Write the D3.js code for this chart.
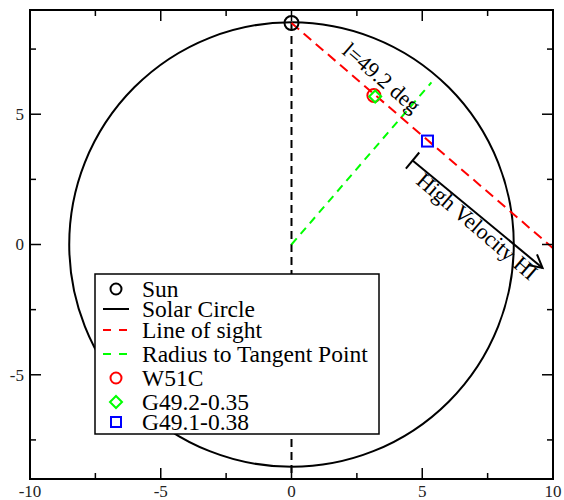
<!DOCTYPE html>
<html>
<head>
<meta charset="utf-8">
<script src="https://cdn.jsdelivr.net/npm/d3@7"></script>
<style>
  body { margin: 0; background: #fff; }
</style>
</head>
<body>
<div id="chart"></div>
<script>
// galactic geometry, kpc
const sun = [0, 8.5];
const solarRadius = 8.5;
const longitude = 49.2;
const lineOfSight = [[0, 8.5], [10, -0.14]];
const tangentRadius = [[0, 0], [5.35, 6.22]];
const sunDrop = [[0, 8.5], [0, -9]];
const w51c = [[3.15, 5.72]];
const g492 = [[3.2, 5.68]];
const g491 = [[5.2, 3.97]];
const hviArrow = [[4.63, 3.22], [9.6, -0.9]];

const xTicks = [-10, -5, 0, 5, 10];
const yTicks = [-5, 0, 5];
const legendItems = ["Sun", "Solar Circle", "Line of sight", "Radius to Tangent Point", "W51C", "G49.2-0.35", "G49.1-0.38"];

(function() {
  const width = 564, height = 500;
  const margin = { top: 10, right: 11, bottom: 21, left: 30 };
  const serif = "Liberation Serif";

  const svg = d3.select("#chart").append("svg")
    .attr("width", width).attr("height", height);

  const x = d3.scaleLinear().domain([-10, 10]).range([margin.left, width - margin.right]);
  const y = d3.scaleLinear().domain([-9, 9]).range([height - margin.bottom, margin.top]);
  const pxPerUnit = x(1) - x(0);

  const line = d3.line().x(d => x(d[0])).y(d => y(d[1]));

  // solar circle
  svg.append("circle")
    .attr("cx", x(0)).attr("cy", y(0))
    .attr("r", solarRadius * pxPerUnit)
    .attr("fill", "none").attr("stroke", "#000").attr("stroke-width", 2);

  svg.append("path").datum(sunDrop).attr("d", line)
    .attr("fill", "none").attr("stroke", "#000").attr("stroke-width", 2)
    .attr("stroke-dasharray", "8,5");

  svg.append("path").datum(tangentRadius).attr("d", line)
    .attr("fill", "none").attr("stroke", "#00ff00").attr("stroke-width", 2)
    .attr("stroke-dasharray", "8,6");

  svg.append("path").datum(lineOfSight).attr("d", line)
    .attr("fill", "none").attr("stroke", "#ff0000").attr("stroke-width", 2)
    .attr("stroke-dasharray", "10,6");

  // markers
  svg.append("circle").attr("cx", x(sun[0])).attr("cy", y(sun[1])).attr("r", 7)
    .attr("fill", "none").attr("stroke", "#000").attr("stroke-width", 2);
  svg.selectAll(".w51c").data(w51c).join("circle")
    .attr("cx", d => x(d[0])).attr("cy", d => y(d[1])).attr("r", 6.5)
    .attr("fill", "none").attr("stroke", "#ff0000").attr("stroke-width", 2);
  svg.selectAll(".g492").data(g492).join("path")
    .attr("transform", d => `translate(${x(d[0])},${y(d[1])})`)
    .attr("d", "M0,-6L6,0L0,6L-6,0Z")
    .attr("fill", "none").attr("stroke", "#00ff00").attr("stroke-width", 2);
  svg.selectAll(".g491").data(g491).join("rect")
    .attr("x", d => x(d[0]) - 5.5).attr("y", d => y(d[1]) - 5.5)
    .attr("width", 11).attr("height", 11)
    .attr("fill", "none").attr("stroke", "#0000ff").attr("stroke-width", 2);

  // angle of line of sight on screen
  const ang = Math.atan2(y(lineOfSight[1][1]) - y(lineOfSight[0][1]), x(lineOfSight[1][0]) - x(lineOfSight[0][0])) * 180 / Math.PI;

  svg.append("text")
    .attr("transform", `translate(${x(3.45)},${y(6.4)}) rotate(${ang})`)
    .attr("text-anchor", "middle").attr("dominant-baseline", "central")
    .attr("font-size", 22).text(`l=${longitude} deg`);

  // high velocity HI arrow
  const a0 = [x(hviArrow[0][0]), y(hviArrow[0][1])];
  const a1 = [x(hviArrow[1][0]), y(hviArrow[1][1])];
  const dx = a1[0] - a0[0], dy = a1[1] - a0[1];
  const len = Math.hypot(dx, dy);
  const ux = dx / len, uy = dy / len;
  const g = svg.append("g").attr("stroke", "#000").attr("stroke-width", 2).attr("fill", "none");
  g.append("line").attr("x1", a0[0]).attr("y1", a0[1]).attr("x2", a1[0]).attr("y2", a1[1]);
  g.append("line")
    .attr("x1", a0[0] - uy * 10.5).attr("y1", a0[1] + ux * 10.5)
    .attr("x2", a0[0] + uy * 10.5).attr("y2", a0[1] - ux * 10.5);
  const headL = 13, headW = 7;
  g.append("path").attr("d",
    `M${a1[0] - ux * headL - uy * headW},${a1[1] - uy * headL + ux * headW}` +
    `L${a1[0]},${a1[1]}` +
    `L${a1[0] - ux * headL + uy * headW},${a1[1] - uy * headL - ux * headW}`);

  svg.append("text")
    .attr("transform", `translate(${x(7.1)},${y(0.7)}) rotate(${ang})`)
    .attr("text-anchor", "middle").attr("dominant-baseline", "central")
    .attr("font-size", 22).text("High Velocity HI");

  // frame with inward ticks on all sides
  const tickMajor = 11, tickMinor = 6;
  const frame = svg.append("g").attr("stroke", "#000").attr("stroke-width", 1.5);
  const xMinor = d3.range(-7.5, 10, 5);
  const yMinor = d3.range(-7.5, 9, 5);
  const xTickLen = xTicks.map(v => [v, tickMajor]).concat(xMinor.map(v => [v, tickMinor]));
  const yTickLen = yTicks.map(v => [v, tickMajor]).concat(yMinor.map(v => [v, tickMinor]));
  xTickLen.forEach(([v, l]) => {
    frame.append("line").attr("x1", x(v)).attr("x2", x(v)).attr("y1", y(-9)).attr("y2", y(-9) - l);
    frame.append("line").attr("x1", x(v)).attr("x2", x(v)).attr("y1", y(9)).attr("y2", y(9) + l);
  });
  yTickLen.forEach(([v, l]) => {
    frame.append("line").attr("y1", y(v)).attr("y2", y(v)).attr("x1", x(-10)).attr("x2", x(-10) + l);
    frame.append("line").attr("y1", y(v)).attr("y2", y(v)).attr("x1", x(10)).attr("x2", x(10) - l);
  });
  svg.append("rect")
    .attr("x", x(-10)).attr("y", y(9))
    .attr("width", x(10) - x(-10)).attr("height", y(-9) - y(9))
    .attr("fill", "none").attr("stroke", "#000").attr("stroke-width", 2);

  svg.append("g").selectAll("text").data(xTicks).join("text")
    .attr("x", d => x(d)).attr("y", y(-9) + 18)
    .attr("text-anchor", "middle").attr("font-size", 17).attr("fill", "#222")
    .text(d => d);
  svg.append("g").selectAll("text").data(yTicks).join("text")
    .attr("x", x(-10) - 6).attr("y", d => y(d)).attr("dy", "0.35em")
    .attr("text-anchor", "end").attr("font-size", 17).attr("fill", "#222")
    .text(d => d);

  // legend
  const lg = svg.append("g");
  lg.append("rect").attr("x", 95).attr("y", 274).attr("width", 284).attr("height", 160)
    .attr("fill", "#fff").attr("stroke", "#000").attr("stroke-width", 1.5);
  const rowY = [289, 309, 330, 354, 378, 402, 422];
  const sx = 116;
  legendItems.forEach((name, i) => {
    const ry = rowY[i];
    lg.append("text").attr("x", 142).attr("y", ry).attr("dy", "0.35em")
      .attr("font-size", 23.5).text(name);
    if (i === 0) {
      lg.append("circle").attr("cx", sx).attr("cy", ry).attr("r", 5.5)
        .attr("fill", "none").attr("stroke", "#000").attr("stroke-width", 2);
    } else if (i === 1) {
      lg.append("line").attr("x1", 103).attr("x2", 129).attr("y1", ry).attr("y2", ry)
        .attr("stroke", "#000").attr("stroke-width", 2);
    } else if (i === 2 || i === 3) {
      lg.append("line").attr("x1", 103).attr("x2", 129).attr("y1", ry).attr("y2", ry)
        .attr("stroke", i === 2 ? "#ff0000" : "#00ff00").attr("stroke-width", 2)
        .attr("stroke-dasharray", "8,8");
    } else if (i === 4) {
      lg.append("circle").attr("cx", sx).attr("cy", ry).attr("r", 5.5)
        .attr("fill", "none").attr("stroke", "#ff0000").attr("stroke-width", 2);
    } else if (i === 5) {
      lg.append("path").attr("transform", `translate(${sx},${ry})`)
        .attr("d", "M0,-6L6,0L0,6L-6,0Z")
        .attr("fill", "none").attr("stroke", "#00ff00").attr("stroke-width", 2);
    } else {
      lg.append("rect").attr("x", sx - 5).attr("y", ry - 5).attr("width", 10).attr("height", 10)
        .attr("fill", "none").attr("stroke", "#0000ff").attr("stroke-width", 2);
    }
  });

  svg.selectAll("text").attr("font-family", serif);
})();
</script>
</body>
</html>
